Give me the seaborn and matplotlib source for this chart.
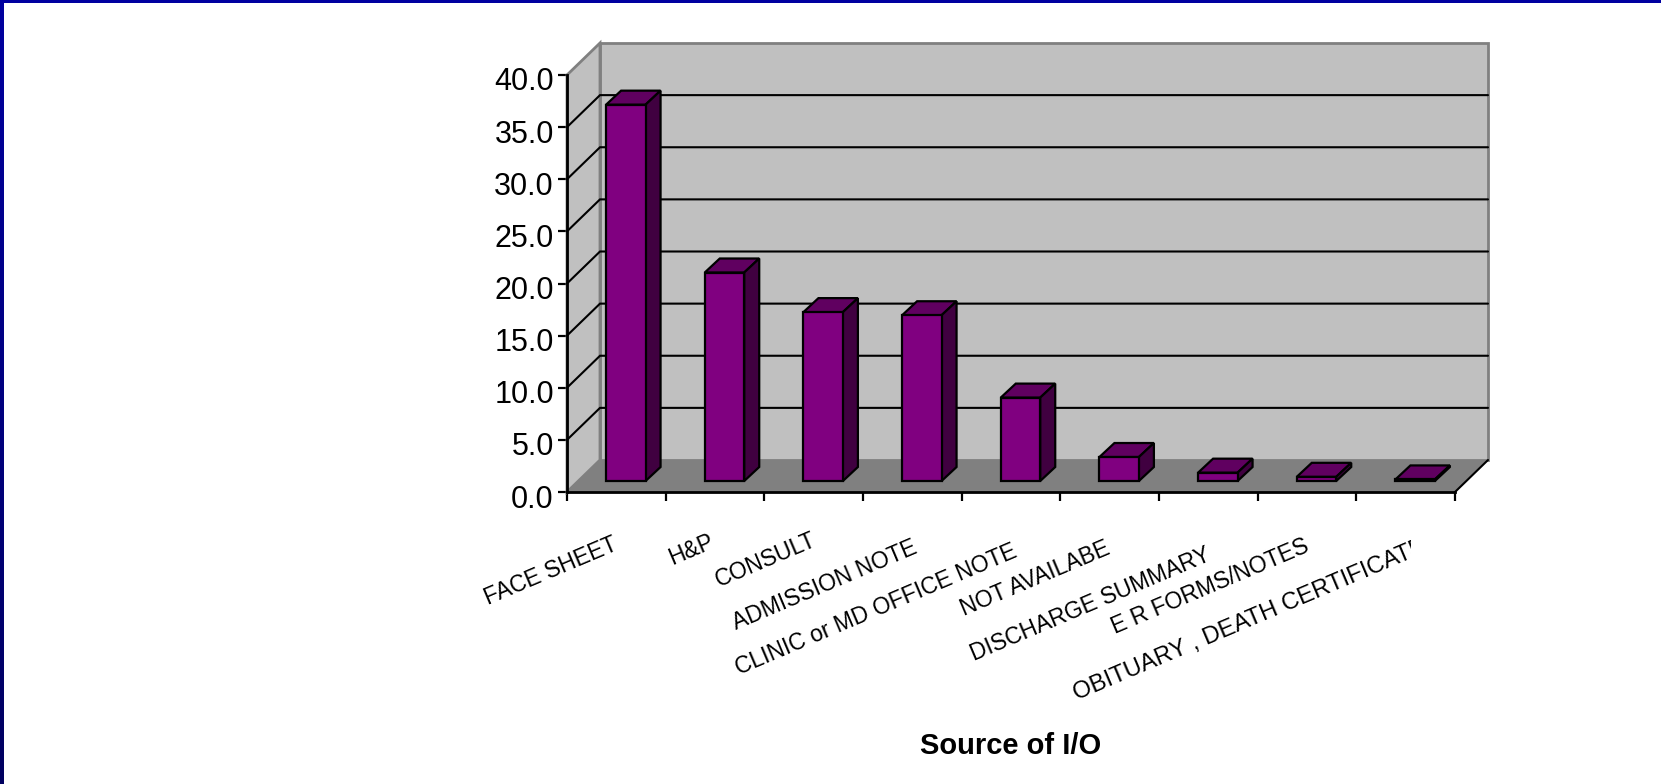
import matplotlib
matplotlib.use("Agg")
import matplotlib.pyplot as plt
from matplotlib.patches import Polygon, Rectangle
from matplotlib.transforms import ScaledTranslation, Bbox
import numpy as np
import pandas as pd
import seaborn as sns

sources = ["FACE SHEET", "H&P", "CONSULT", "ADMISSION NOTE", "CLINIC or MD OFFICE NOTE",
           "NOT AVAILABE", "DISCHARGE SUMMARY", "E R FORMS/NOTES", "OBITUARY , DEATH CERTIFICATE"]
percent = [36.1, 20.0, 16.2, 15.9, 8.0, 2.3, 0.8, 0.4, 0.15]
y_ticks = [0, 5, 10, 15, 20, 25, 30, 35, 40]

PURPLE, PURPLE_TOP, PURPLE_SIDE = "#800080", "#600060", "#400040"
WALL, FLOOR, EDGE = "#c0c0c0", "#808080", "#808080"
FONT = "Liberation Sans"

W, H, DPI = 1661, 784, 100
sns.set_style("white")
fig = plt.figure(figsize=(W / DPI, H / DPI), dpi=DPI, facecolor="white")
ax = fig.add_axes([567 / W, 1 - 492 / H, 888 / W, 417 / H])
ax.patch.set_visible(False)

df = pd.DataFrame({"source": sources, "percent": percent})
sns.barplot(data=df, x="source", y="percent", color=PURPLE, saturation=1, width=0.4,
            edgecolor="black", linewidth=1.6, ax=ax, zorder=3)

ax.set_xlim(-0.5, len(sources) - 0.5)
ax.set_ylim(0, 40)

# Depth of the chart box and of each column, in data units.
box_dx, box_dy = 33 / 98.67, 32 / 10.425
bar_dx, bar_dy = 15 / 98.67, 14 / 10.425
x0, x1 = ax.get_xlim()

ax.add_patch(Polygon([(x0 + box_dx, box_dy), (x1 + box_dx, box_dy), (x1 + box_dx, 40 + box_dy), (x0 + box_dx, 40 + box_dy)],
                     fc=WALL, ec=EDGE, lw=2, clip_on=False, zorder=0.5, joinstyle="miter"))
ax.add_patch(Polygon([(x0, 0), (x0 + box_dx, box_dy), (x0 + box_dx, 40 + box_dy), (x0, 40)],
                     fc=WALL, ec=EDGE, lw=2, clip_on=False, zorder=0.6, joinstyle="miter"))
ax.add_patch(Polygon([(x0, 0), (x1, 0), (x1 + box_dx, box_dy), (x0 + box_dx, box_dy)],
                     fc=FLOOR, ec="none", clip_on=False, zorder=0.7))
ax.plot([x1, x1 + box_dx], [0, box_dy], color="black", lw=1.5, clip_on=False, zorder=0.8)

for v in y_ticks[1:-1]:
    ax.plot([x0, x0 + box_dx, x1 + box_dx], [v, v + box_dy, v + box_dy],
            color="black", lw=1.5, clip_on=False, zorder=0.8, solid_joinstyle="miter")

# Columns sit partway into the box; shift them and add their top and side faces.
shifted = ax.transData + ScaledTranslation(9.5 / DPI, 11 / DPI, fig.dpi_scale_trans)
for bar in list(ax.patches):
    if isinstance(bar, Rectangle) and bar.get_zorder() == 3:
        bar.set_transform(shifted)
        bar.set_clip_on(False)
        bar.set_joinstyle("miter")
        a, b, h = bar.get_x(), bar.get_x() + bar.get_width(), bar.get_height()
        ax.add_patch(Polygon([(a, h), (b, h), (b + bar_dx, h + bar_dy), (a + bar_dx, h + bar_dy)], transform=shifted,
                             fc=PURPLE_TOP, ec="black", lw=1.6, clip_on=False, zorder=2.9, joinstyle="miter"))
        ax.add_patch(Polygon([(b, 0), (b + bar_dx, bar_dy), (b + bar_dx, h + bar_dy), (b, h)], transform=shifted,
                             fc=PURPLE_SIDE, ec="black", lw=1.6, clip_on=False, zorder=2.9, joinstyle="miter"))

sns.despine(ax=ax, top=True, right=True)
for side in ("left", "bottom"):
    ax.spines[side].set_linewidth(2)
    ax.spines[side].set_color("black")
    ax.spines[side].set_zorder(2)

ax.set_yticks(y_ticks)
ax.set_yticklabels([f"{v:.1f}" for v in y_ticks], family=FONT, fontsize=22, color="black")
ax.tick_params(axis="y", left=True, length=6.5, width=1.6, color="black", pad=3)
for lab in ax.get_yticklabels():
    lab.set_transform(lab.get_transform() + ScaledTranslation(0, -4 / DPI, fig.dpi_scale_trans))

# Category boundaries carry the tick marks; labels sit on the category centres.
ax.set_xticks(range(len(sources)))
ax.set_xticks([i - 0.5 for i in range(len(sources) + 1)], minor=True)
ax.tick_params(axis="x", which="minor", bottom=True, length=6.5, width=1.6, color="black")
ax.tick_params(axis="x", which="major", bottom=False, pad=24)
ax.set_xticklabels(sources, family=FONT, fontsize=16.5, rotation=23,
                   ha="right", va="top", rotation_mode="anchor", color="black")

# Staggered label offsets in pixels, so the long names do not collide.
label_dx = [-5, -7, -3, -1, 0, -5, -3, -4, 15]
label_dy = [3, 0, -2, 6, 10, 7, 13, 4, 5]
for lab, dx, dy in zip(ax.get_xticklabels(), label_dx, label_dy):
    lab.set_transform(lab.get_transform() + ScaledTranslation(dx / DPI, -dy / DPI, fig.dpi_scale_trans))
last = ax.get_xticklabels()[-1]
last.set_fontsize(17.2)
last.set_clip_box(Bbox([[900, 0], [1411, H]]))
last.set_clip_on(True)

ax.set_xlabel("Source of I/O", family=FONT, fontsize=21, fontweight="bold", color="black", labelpad=20)
ax.set_ylabel("")

# Slide frame along the top and left edges, darkening towards the bottom.
frame = fig.add_axes([0, 0, 4 / W, 1], zorder=5)
frame.imshow(np.linspace(0, 1, 256)[:, None], aspect="auto",
             cmap=matplotlib.colors.LinearSegmentedColormap.from_list("frame", ["#0000a0", "#000060"]))
frame.set_axis_off()
fig.add_artist(Rectangle((0, 1 - 3 / H), 1, 3 / H, transform=fig.transFigure, fc="#0000a0", ec="none"))

fig.savefig("out.png", dpi=DPI)
